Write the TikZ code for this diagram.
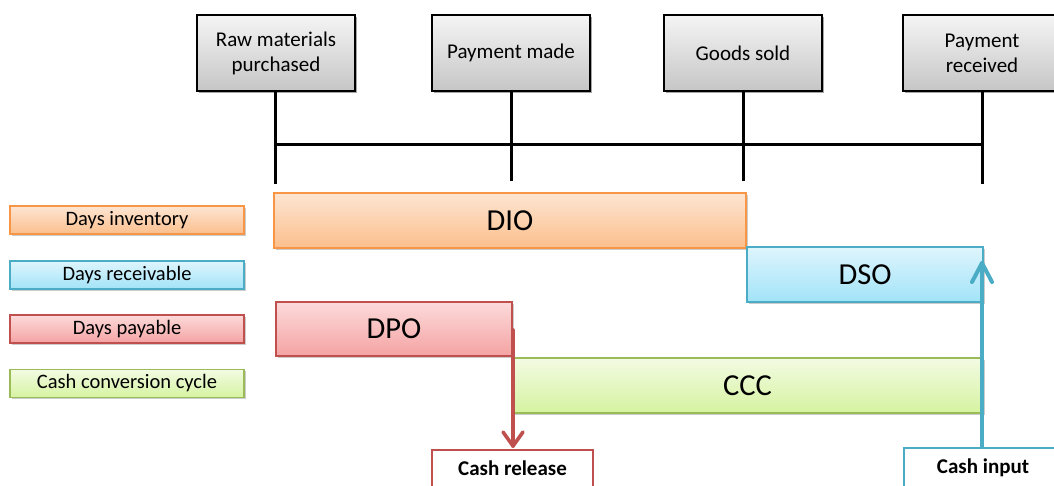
\documentclass[tikz,border=0pt]{standalone}
\usepackage{fontspec}
\setmainfont{Carlito}
\usetikzlibrary{arrows.meta,shadows}
\definecolor{orbd}{HTML}{F79646}
\definecolor{ortop}{HTML}{FDE5D2}
\definecolor{orbot}{HTML}{FBBF8C}
\definecolor{blbd}{HTML}{4BACC6}
\definecolor{bltop}{HTML}{DEF5FD}
\definecolor{blbot}{HTML}{A2E3F8}
\definecolor{rdbd}{HTML}{C0504D}
\definecolor{rdtop}{HTML}{FCDADA}
\definecolor{rdbot}{HTML}{F5A3A3}
\definecolor{grbd}{HTML}{9BBB59}
\definecolor{grtop}{HTML}{F3FBE3}
\definecolor{grbot}{HTML}{D5F3A0}
\tikzset{
  evbox/.style={draw=black, line width=1.2pt, top color=gray!8, bottom color=gray!45,
    minimum width=158pt, minimum height=76pt, inner sep=0pt, align=center,
    font=\fontsize{21}{25}\selectfont,
    drop shadow={shadow xshift=2pt, shadow yshift=-2pt, opacity=0.35, fill=black}},
  tick/.style={line width=3pt, black},
  leg/.style={line width=1.2pt, minimum width=234pt, minimum height=28pt, inner sep=0pt,
    font=\fontsize{20.5}{22}\selectfont,
    drop shadow={shadow xshift=1.5pt, shadow yshift=-1.5pt, opacity=0.2, fill=black}},
  bar/.style={line width=1.2pt, inner sep=0pt, font=\fontsize{30.5}{34}\selectfont,
    drop shadow={shadow xshift=1.5pt, shadow yshift=-1.5pt, opacity=0.2, fill=black}},
  orange/.style={draw=orbd, top color=ortop, bottom color=orbot},
  blue/.style={draw=blbd, top color=bltop, bottom color=blbot},
  red/.style={draw=rdbd, top color=rdtop, bottom color=rdbot},
  green/.style={draw=grbd, top color=grtop, bottom color=grbot},
  cashbox/.style={fill=white, line width=2.5pt, minimum width=158pt, minimum height=60pt,
    inner sep=0pt},
  cashtext/.style={inner sep=0pt, font=\fontsize{21}{24}\selectfont\bfseries},
  arr/.style={line width=4pt, line cap=round, line join=round}
}
\begin{document}
\begin{tikzpicture}[x=1pt,y=-1pt]
\useasboundingbox (0,0) rectangle (1054,485);
\clip (0,0) rectangle (1054,485);
% event boxes
\node[evbox] (e1) at (276,53) {Raw materials\\purchased};
\node[evbox] (e2) at (511,53) {Payment made};
\node[evbox] (e3) at (743,53) {Goods sold};
\node[evbox] (e4) at (982,53) {Payment\\received};
% timeline
\coordinate (b1) at (275,184);
\coordinate (b2) at (511,181);
\coordinate (b3) at (743,181);
\coordinate (b4) at (982,184);
\coordinate (h1) at (275,144);
\coordinate (h4) at (982,144);
\draw[tick] (e1.south -| b1) -- (b1);
\draw[tick] (e2.south -| b2) -- (b2);
\draw[tick] (e3.south -| b3) -- (b3);
\draw[tick] (e4.south -| b4) -- (b4);
\draw[tick] (h1) -- (h4);
% legend
\node[leg,orange] (l1) at (127,220) {Days inventory};
\node[leg,blue]   (l2) at (127,275) {Days receivable};
\node[leg,red]    (l3) at (127,329) {Days payable};
\node[leg,green]  (l4) at (127,383.5) {Cash conversion cycle};
% bars
\node[bar,orange,minimum width=472pt,minimum height=55pt] (dio) at (510,220.5) {DIO};
\node[bar,blue,minimum width=236pt,minimum height=55pt] (dso) at (865,274.5) {DSO};
\node[bar,red,minimum width=236pt,minimum height=54pt] (dpo) at (394,329) {DPO};
\node[bar,green,minimum width=471pt,minimum height=55pt] (ccc) at (747.5,385.5) {CCC};
% cash boxes
\node[cashbox,draw=rdbd,minimum width=161pt] (cr) at (512.5,480) {};
\node[cashtext] (crt) at (512.5,468) {Cash release};
\node[cashbox,draw=blbd] (ci) at (983,478) {};
\node[cashtext] (cit) at (983,468) {Cash input};
% arrows
\coordinate (rs) at (513,330);
\coordinate (rt) at (513,446);
\coordinate (bt) at (982,263);
\draw[arr,draw=rdbd,line width=3.6pt] (rs) -- (rt);
\draw[arr,draw=rdbd,line width=3.6pt] ([xshift=-10pt,yshift=14pt]rt) -- (rt) -- ([xshift=10pt,yshift=14pt]rt);
\draw[arr,draw=blbd] (ci.north -| bt) -- (bt);
\draw[arr,draw=blbd] ([xshift=-10pt,yshift=-19pt]bt) -- (bt) -- ([xshift=10pt,yshift=-19pt]bt);
\end{tikzpicture}
\end{document}
